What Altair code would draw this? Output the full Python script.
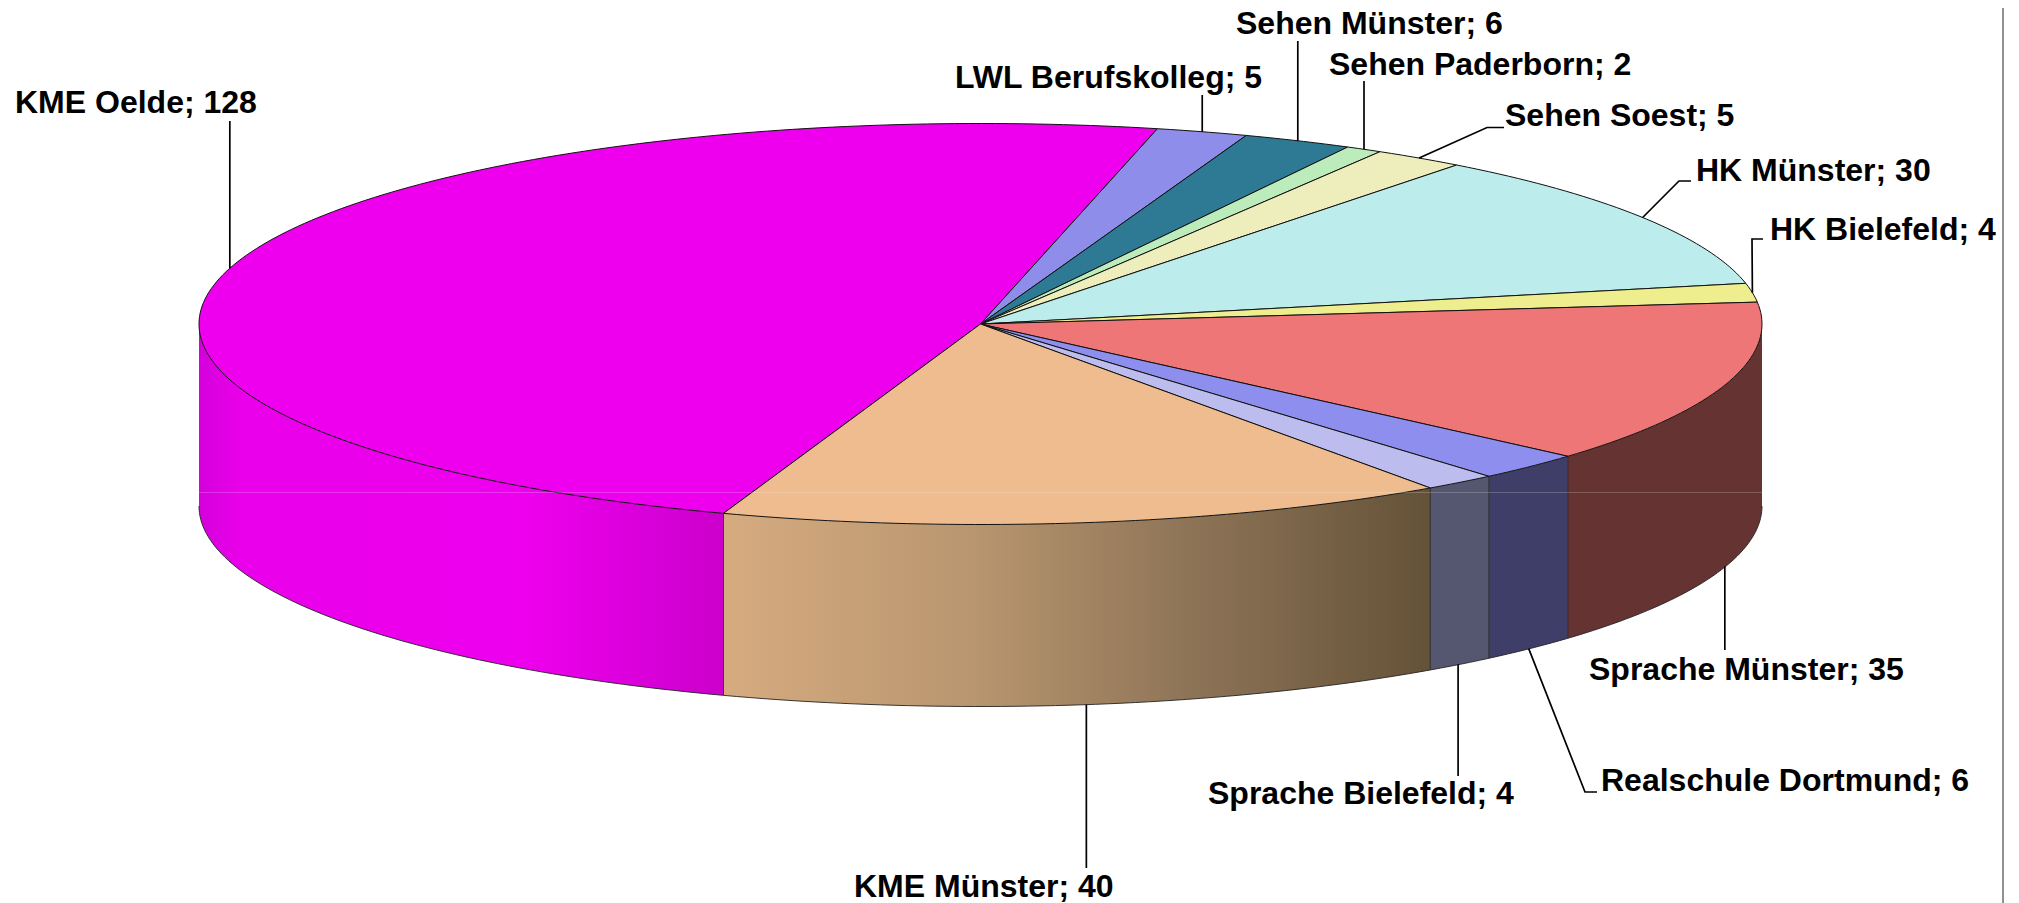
import math
import altair as alt
import pandas as pd

names = ["KME Oelde", "LWL Berufskolleg", "Sehen Münster", "Sehen Paderborn", "Sehen Soest",
         "HK Münster", "HK Bielefeld", "Sprache Münster", "Realschule Dortmund",
         "Sprache Bielefeld", "KME Münster"]
values = [128, 5, 6, 2, 5, 30, 4, 35, 6, 4, 40]
top_colors = ["#ee00ee", "#8e8eea", "#2e7a94", "#bcecbc", "#eeeebc", "#bcecec",
              "#eeee8e", "#ee7676", "#8e8eee", "#bcbcee", "#eebc8e"]

# Side wall shading, left to right, for the wedges on the front of the disc
side_stops = {
    "KME Oelde": [(0, "#d400dc"), (0.08, "#ea00ea"), (0.62, "#ee00ee"), (0.82, "#dc00dc"), (1, "#cc00cc")],
    "Sprache Münster": [(0, "#663333"), (1, "#663333")],
    "Realschule Dortmund": [(0, "#3e3e68"), (1, "#3e3e68")],
    "Sprache Bielefeld": [(0, "#555770"), (1, "#555770")],
    "KME Münster": [(0, "#d6ab80"), (0.35, "#b9966f"), (0.65, "#8f7558"), (1, "#645238")],
}

# Disc geometry in page pixels
CX, CY, RX, RY, DEPTH = 980.5, 324.0, 781.5, 200.5, 182.0
START = 13.1 - 173.9  # clockwise degrees from the top where the first wedge begins
STEP = 360.0 / sum(values)

# Label layout: text position, leader bend points and small leader offsets (page pixels)
label_left = [15, 955, 1236, 1329, 1505, 1696, 1770, 1589, 1601, 1208, 854]
label_base = [113, 88, 34, 75, 126, 181, 240, 680, 791, 804, 897]
leader_bends = [
    [(None, 121)], [(None, 95)], [(None, 41)], [(None, 81)],
    [(1487, 127.5), (1504, 127.5)], [(1679, 181), (1691, 181)], [(1752, 239), (1763, 239)],
    [(None, 650)], [(1585, 792), (1597, 792)], [(None, 776)], [(None, 868)],
]
leader_nudge = [0, 0, 0, 0, 0, 0, 0, -1, -1, -2, -2.5]


def rim(deg):
    r = math.radians(deg)
    return CX + RX * math.sin(r), CY - RY * math.cos(r)


def norm(deg):
    return ((deg % 360) + 360) % 360


wedges, sides, leaders, seams = [], [], [], []
angle = START
for k, (name, value) in enumerate(zip(names, values)):
    a0, a1 = angle, angle + value * STEP
    angle = a1
    n = max(2, int(math.ceil(a1 - a0)) + 1)
    arc = [a0 + (a1 - a0) * j / (n - 1) for j in range(n)]
    poly = [(CX, CY)] + [rim(a) for a in arc] + [(CX, CY)]
    for i, (x, y) in enumerate(poly):
        wedges.append({"slice": name, "i": i, "x": x, "y": y})
    # visible wall: the part of the wedge on the front half of the disc
    for a in arc:
        if 90 <= norm(a) <= 270:
            x, y = rim(a)
            sides.append({"slice": name, "x": x, "y": y, "y2": y + DEPTH})
    # seam between neighbouring wall pieces
    if 90 < norm(a1) < 270:
        x, y = rim(a1)
        seams.append({"x": x, "y": y, "y2": y + DEPTH})
    # leader starts on the rim at the wedge's middle
    mid = (a0 + a1) / 2
    ax, ay = rim(mid)
    ax += leader_nudge[k]
    if 90 < norm(mid) < 270:
        ay += DEPTH
    pts = [(ax, ay)] + [(ax if bx is None else bx, by) for bx, by in leader_bends[k]]
    for i, (x, y) in enumerate(pts):
        leaders.append({"slice": name, "i": i, "x": x, "y": y})

# front-wall corners at exact horizontal extremes
for name, deg in [("Sprache Münster", 90), ("KME Oelde", 270)]:
    x, y = rim(deg)
    sides.append({"slice": name, "x": x, "y": y, "y2": y + DEPTH})

wedge_df = pd.DataFrame(wedges)
side_df = pd.DataFrame(sides)
seam_df = pd.DataFrame(seams)
leader_df = pd.DataFrame(leaders)
label_df = pd.DataFrame({
    "text": [f"{n}; {v}" for n, v in zip(names, values)],
    "x": label_left,
    "y": label_base,
})

X = alt.Scale(domain=[8, 2011])
Y = alt.Scale(domain=[903, 8])


def ex(f="x"):
    return alt.X(f"{f}:Q", scale=X, axis=None)


def ey(f="y"):
    return alt.Y(f"{f}:Q", scale=Y, axis=None)


layers = []
for name, stops in side_stops.items():
    d = side_df[side_df["slice"] == name].sort_values("x")
    grad = alt.Gradient(
        gradient="linear", x1=0, x2=1, y1=0, y2=0,
        stops=[alt.GradientStop(offset=o, color=c) for o, c in stops],
    )
    layers.append(
        alt.Chart(d).mark_area(fill=grad, interpolate="linear")
        .encode(x=ex(), y=ey(), y2=alt.Y2("y2:Q"))
    )
    layers.append(
        alt.Chart(d).mark_line(color="#222222", strokeWidth=0.9)
        .encode(x=ex(), y=ey("y2"), order=alt.Order("x:Q"))
    )

layers.append(
    alt.Chart(seam_df).mark_rule(color="#222222", strokeWidth=0.9)
    .encode(x=ex(), y=ey(), y2=alt.Y2("y2:Q"))
)

for name, color in zip(names, top_colors):
    d = wedge_df[wedge_df["slice"] == name]
    layers.append(
        alt.Chart(d).mark_line(fill=color, stroke="#111111", strokeWidth=1, strokeJoin="round")
        .encode(x=ex(), y=ey(), order=alt.Order("i:Q"))
    )

hair = pd.DataFrame({"x": [CX - RX], "x2": [CX + RX], "y": [492.5]})
layers.append(
    alt.Chart(hair).mark_rule(color="#ffffff", opacity=0.2, strokeWidth=1)
    .encode(x=ex(), x2=alt.X2("x2:Q"), y=ey())
)

edge = pd.DataFrame({"x": [2003], "y": [8], "y2": [903]})
layers.append(
    alt.Chart(edge).mark_rule(color="#222222", strokeWidth=1)
    .encode(x=ex(), y=ey(), y2=alt.Y2("y2:Q"))
)

layers.append(
    alt.Chart(leader_df).mark_line(color="#000000", strokeWidth=1.7)
    .encode(x=ex(), y=ey(), detail="slice:N", order=alt.Order("i:Q"))
)

layers.append(
    alt.Chart(label_df).mark_text(
        font="Liberation Sans", fontSize=32, fontWeight="bold", color="#000000",
        align="left", baseline="alphabetic",
    ).encode(x=ex(), y=ey(), text="text:N")
)

chart = (
    alt.layer(*layers)
    .properties(width=2003, height=895, padding=0, autosize=alt.AutoSizeParams(type="none"))
    .configure_view(strokeWidth=0)
)

chart.save("out.html", embed_options={"renderer": "svg", "actions": False})
